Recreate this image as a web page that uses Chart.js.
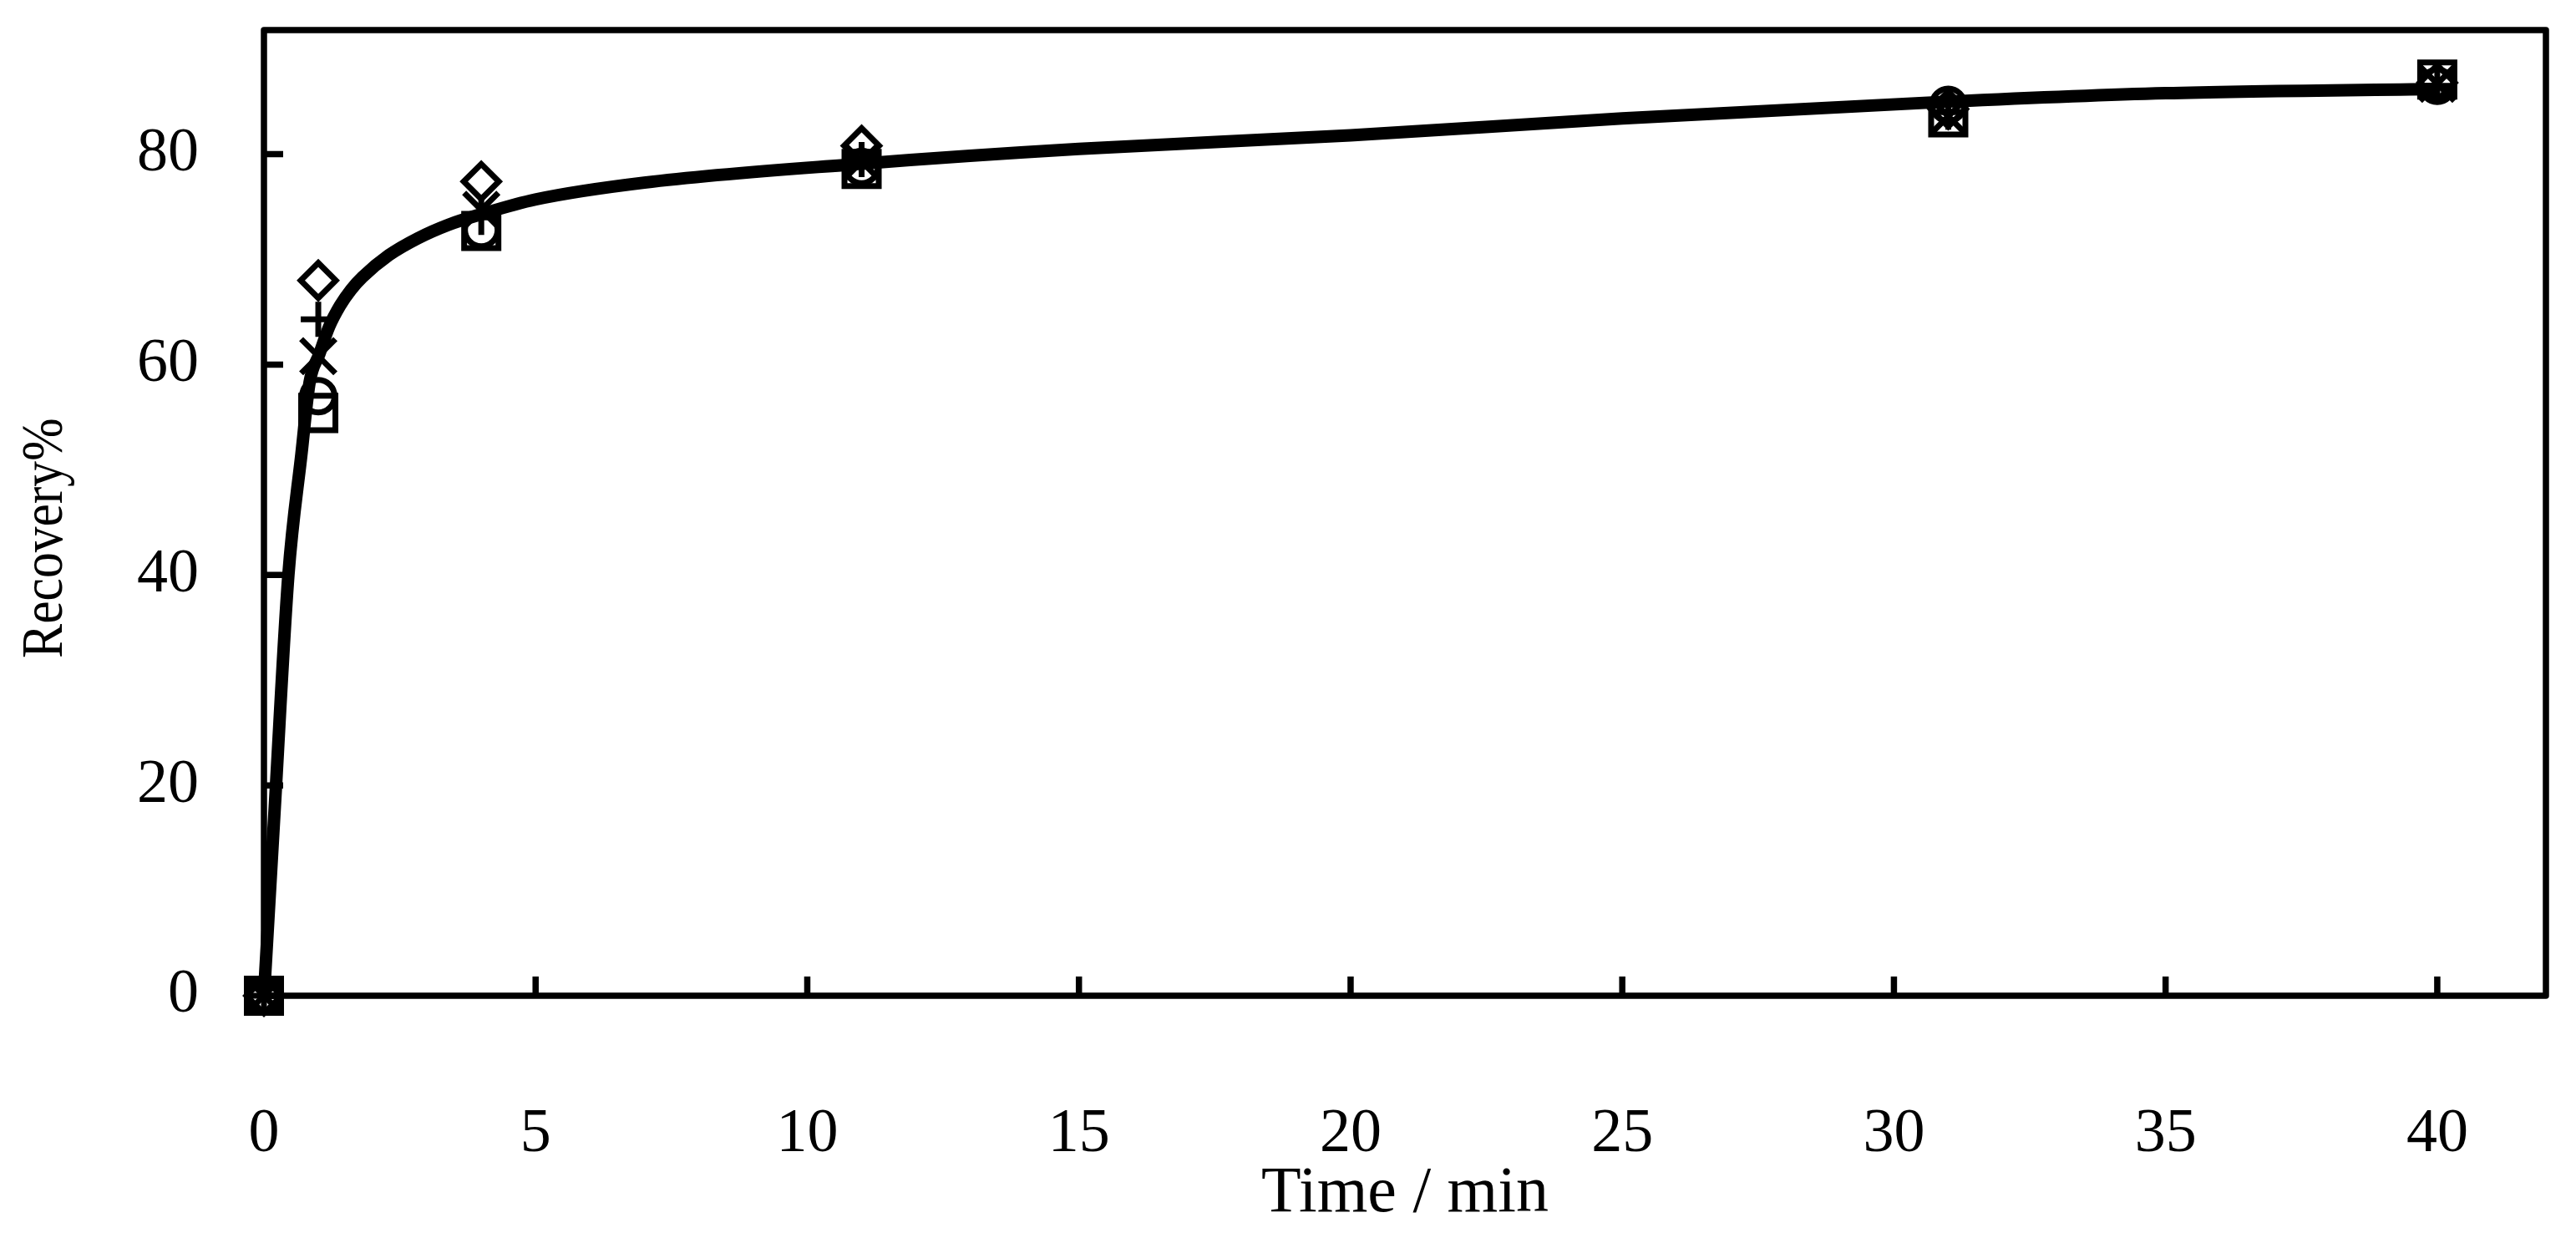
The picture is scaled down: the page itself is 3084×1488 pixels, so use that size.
<!DOCTYPE html>
<html>
<head>
<meta charset="utf-8">
<script src="https://cdn.jsdelivr.net/npm/chart.js@4.4.1/dist/chart.umd.min.js"></script>
<style>
  html, body { margin: 0; padding: 0; background: #fff; }
  #wrap { width: 3084px; height: 1488px; }
</style>
</head>
<body>
<div id="wrap"><canvas id="myChart" width="3084" height="1488"></canvas></div>
<script>
// temps de prélèvement (min)
const times = [0, 1, 4, 11, 31, 40];

// valeurs, une série par symbole
const diamondVals = [0, 68.0, 77.4, 80.8, 84.3, 86.8];
const plusVals    = [0, 64.3, 74.0, 79.5, 84.0, 86.5];
const crossVals   = [0, 60.8, 74.7, 79.3, 83.6, 86.7];
const circleVals  = [0, 57.0, 72.8, 78.8, 84.7, 86.5];
const squareVals  = [0, 55.4, 72.7, 78.6, 83.5, 87.1];

// courbe d'ajustement (points relevés le long du trait)
const fitX = [0, 0.2, 0.45, 0.69, 0.84, 1.02, 1.2, 1.4, 1.6, 1.81, 2.3, 2.83, 3.4, 4, 5, 7, 11, 15, 20, 25, 31, 35, 40];
const fitY = [0, 18, 40, 51.5, 58.3, 61, 63.6, 65.6, 67.1, 68.3, 70.4, 72.0, 73.3, 74.3, 75.7, 77.3, 79.1, 80.5, 81.8, 83.4, 85.0, 85.8, 86.2];

// graduations
const xTicks = [0, 5, 10, 15, 20, 25, 30, 35, 40];
const yTicks = [0, 20, 40, 60, 80];

const pts = (xs, ys) => xs.map((x, i) => ({ x: x, y: ys[i] }));

function markerSet(label, vals, style, radius) {
    return {
        type: 'scatter',
        label: label,
        data: pts(times, vals),
        pointStyle: style,
        pointRadius: radius,
        pointHoverRadius: radius,
        pointBorderWidth: 7,
        borderColor: '#000',
        backgroundColor: 'rgba(0,0,0,0)',
        showLine: false,
        clip: false
    };
}

const serif = "'Liberation Serif', 'DejaVu Serif', serif";

// cadre + graduations vers l'intérieur + titre de l'axe y
const framePlugin = {
    id: 'frame',
    beforeDatasetsDraw(chart) {
        const { ctx, chartArea: a, scales } = chart;
        ctx.save();
        ctx.strokeStyle = '#000';
        ctx.lineWidth = 7.5;
        ctx.lineJoin = 'round';
        ctx.strokeRect(a.left, a.top, a.right - a.left, a.bottom - a.top);
        ctx.beginPath();
        xTicks.forEach(v => {
            const px = scales.x.getPixelForValue(v);
            ctx.moveTo(px, a.bottom);
            ctx.lineTo(px, a.bottom - 23);
        });
        yTicks.forEach(v => {
            const py = scales.y.getPixelForValue(v);
            ctx.moveTo(a.left, py);
            ctx.lineTo(a.left + 23, py);
        });
        ctx.stroke();

        // titre vertical, un peu sous le milieu comme sur l'original
        ctx.translate(56, scales.y.getPixelForValue(43.5));
        ctx.rotate(-Math.PI / 2);
        ctx.scale(0.88, 1);
        ctx.fillStyle = '#000';
        ctx.font = '70px ' + serif;
        ctx.textAlign = 'center';
        ctx.textBaseline = 'middle';
        ctx.fillText('Recovery%', 0, 0);
        ctx.restore();
    }
};

document.addEventListener('DOMContentLoaded', function() {
    const ctx = document.getElementById('myChart').getContext('2d');

    new Chart(ctx, {
        data: {
            datasets: [
                {
                    type: 'line',
                    label: 'fit',
                    data: pts(fitX, fitY),
                    borderColor: '#000',
                    borderWidth: 15,
                    pointRadius: 0,
                    fill: false,
                    cubicInterpolationMode: 'monotone',
                    clip: false
                },
                markerSet('diamond', diamondVals, 'rectRot', 21),
                markerSet('plus', plusVals, 'cross', 21),
                markerSet('cross', crossVals, 'crossRot', 29),
                markerSet('circle', circleVals, 'circle', 19.5),
                markerSet('square', squareVals, 'rect', 29)
            ]
        },
        options: {
            responsive: false,
            animation: false,
            events: [],
            layout: { padding: { top: 29, right: 25, left: 0, bottom: 0 } },
            plugins: {
                legend: { display: false },
                tooltip: { enabled: false }
            },
            scales: {
                x: {
                    type: 'linear',
                    min: 0,
                    max: 42,
                    afterFit: s => { s.height = 296; s.paddingLeft = 0; s.paddingRight = 0; },
                    afterBuildTicks: s => { s.ticks = xTicks.map(v => ({ value: v })); },
                    grid: { display: false, drawTicks: false },
                    border: { display: false },
                    ticks: {
                        padding: 122,
                        color: '#000',
                        font: { family: serif, size: 74 },
                        maxRotation: 0
                    },
                    title: {
                        display: true,
                        text: 'Time / min',
                        color: '#000',
                        font: { family: serif, size: 78 },
                        padding: { top: 0, bottom: 12 }
                    }
                },
                y: {
                    type: 'linear',
                    min: 0,
                    max: 91.8,
                    afterFit: s => { s.width = 316; s.paddingTop = 0; s.paddingBottom = 0; },
                    afterBuildTicks: s => { s.ticks = yTicks.map(v => ({ value: v })); },
                    grid: { display: false, drawTicks: false },
                    border: { display: false },
                    ticks: {
                        padding: 78,
                        color: '#000',
                        font: { family: serif, size: 74 }
                    }
                }
            }
        },
        plugins: [framePlugin]
    });
});
</script>
</body>
</html>
